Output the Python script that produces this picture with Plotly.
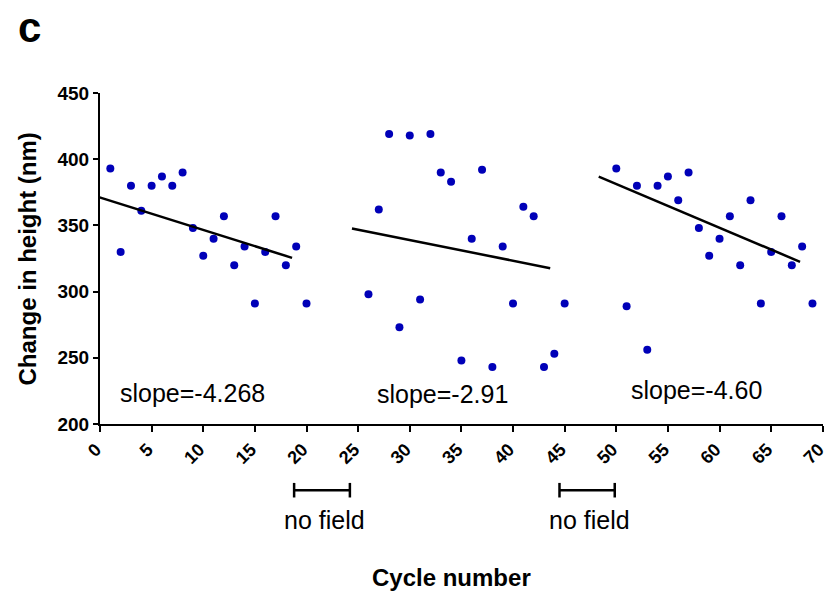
import plotly.graph_objects as go

# ---- data ----
cycle_1 = [1, 2, 3, 4, 5, 6, 7, 8, 9, 10, 11, 12, 13, 14, 15, 16, 17, 18, 19, 20]
height_1 = [393, 330, 380, 361, 380, 387, 380, 390, 348, 327, 340, 357, 320, 334, 291, 330, 357, 320, 334, 291]

cycle_2 = [26, 27, 28, 29, 30, 31, 32, 33, 34, 35, 36, 37, 38, 39, 40, 41, 42, 43, 44, 45]
height_2 = [298, 362, 419, 273, 418, 294, 419, 390, 383, 248, 340, 392, 243, 334, 291, 364, 357, 243, 253, 291]

cycle_3 = [50, 51, 52, 53, 54, 55, 56, 57, 58, 59, 60, 61, 62, 63, 64, 65, 66, 67, 68, 69]
height_3 = [393, 289, 380, 256, 380, 387, 369, 390, 348, 327, 340, 357, 320, 369, 291, 330, 357, 320, 334, 291]

fit_1_x = [-1.0, 18.6]
fit_1_y = [373.5, 325.5]
fit_2_x = [24.4, 43.6]
fit_2_y = [347.7, 317.7]
fit_3_x = [48.3, 67.8]
fit_3_y = [386.9, 322.5]

slope_labels = ["slope=-4.268", "slope=-2.91", "slope=-4.60"]
slope_x = [9.0, 33.2, 57.8]
slope_y = [223.5, 222.5, 225.5]

nofield_ranges = [(18.8, 24.2), (44.5, 49.85)]
nofield_label = "no field"

y_ticks = [200, 250, 300, 350, 400, 450]
x_ticks = list(range(0, 75, 5))

FONT = "Liberation Sans, Arial, sans-serif"
DOT = "#0000B8"

fig = go.Figure()
for cx, hy in [(cycle_1, height_1), (cycle_2, height_2), (cycle_3, height_3)]:
    fig.add_trace(go.Scatter(x=cx, y=hy, mode="markers",
                             marker=dict(color=DOT, size=8, line=dict(width=0)),
                             showlegend=False, cliponaxis=False))
for fx, fy in [(fit_1_x, fit_1_y), (fit_2_x, fit_2_y), (fit_3_x, fit_3_y)]:
    fig.add_trace(go.Scatter(x=fx, y=fy, mode="lines",
                             line=dict(color="black", width=2.5),
                             showlegend=False))

for lbl, sx, sy in zip(slope_labels, slope_x, slope_y):
    fig.add_annotation(x=sx, y=sy, xref="x", yref="y", text=lbl, showarrow=False,
                       xanchor="center", yanchor="middle",
                       font=dict(family=FONT, size=25, color="black"))

for a, b in nofield_ranges:
    fig.add_shape(type="line", xref="x", yref="paper", x0=a, x1=b, y0=-0.2, y1=-0.2,
                  line=dict(color="black", width=2.5))
    for e in (a, b):
        fig.add_shape(type="line", xref="x", yref="paper", x0=e, x1=e, y0=-0.178, y1=-0.222,
                      line=dict(color="black", width=2.5))
    fig.add_annotation(x=(a + b) / 2 + 0.2, y=-0.291, xref="x", yref="paper", text=nofield_label,
                       showarrow=False, xanchor="center", yanchor="middle",
                       font=dict(family=FONT, size=25, color="black"))

fig.add_annotation(x=(451.7 - 100) / 723, y=-0.463, xref="paper", yref="paper",
                   text="Cycle number", showarrow=False, xanchor="center", yanchor="middle",
                   font=dict(family=FONT, size=24, color="black", weight="bold"))
fig.add_annotation(x=-0.0996, y=0.5, xref="paper", yref="paper",
                   text="Change in height (nm)", showarrow=False, textangle=-90,
                   xanchor="center", yanchor="middle",
                   font=dict(family=FONT, size=24, color="black", weight="bold"))
fig.add_annotation(x=-0.098, y=1.275, xref="paper", yref="paper", text="c",
                   showarrow=False, xanchor="center", yanchor="top",
                   font=dict(family=FONT, size=42, color="black", weight="bold"))

axis_common = dict(showgrid=False, zeroline=False, showline=True, linecolor="black",
                   linewidth=2, ticks="outside", tickcolor="black", tickwidth=2,
                   automargin=False)

fig.update_xaxes(range=[0, 70.02], tickmode="array", tickvals=x_ticks,
                 ticktext=[str(t) for t in x_ticks], ticklen=6, tickangle=-45,
                 ticklabeloverflow="allow", ticklabelshift=-4,
                 tickfont=dict(family=FONT, size=18, color="black", weight="bold"),
                 **axis_common)
fig.update_yaxes(range=[200, 450.01], tickmode="array", tickvals=y_ticks,
                 ticktext=[str(t) for t in y_ticks], ticklen=5,
                 tickfont=dict(family=FONT, size=19, color="black", weight="bold"),
                 **axis_common)

fig.update_layout(width=827, height=592, autosize=False, template="none",
                  margin=dict(l=100, r=4, t=93, b=168, pad=0),
                  plot_bgcolor="white", paper_bgcolor="white",
                  font=dict(family=FONT, color="black"))

fig.write_html("out.html")
